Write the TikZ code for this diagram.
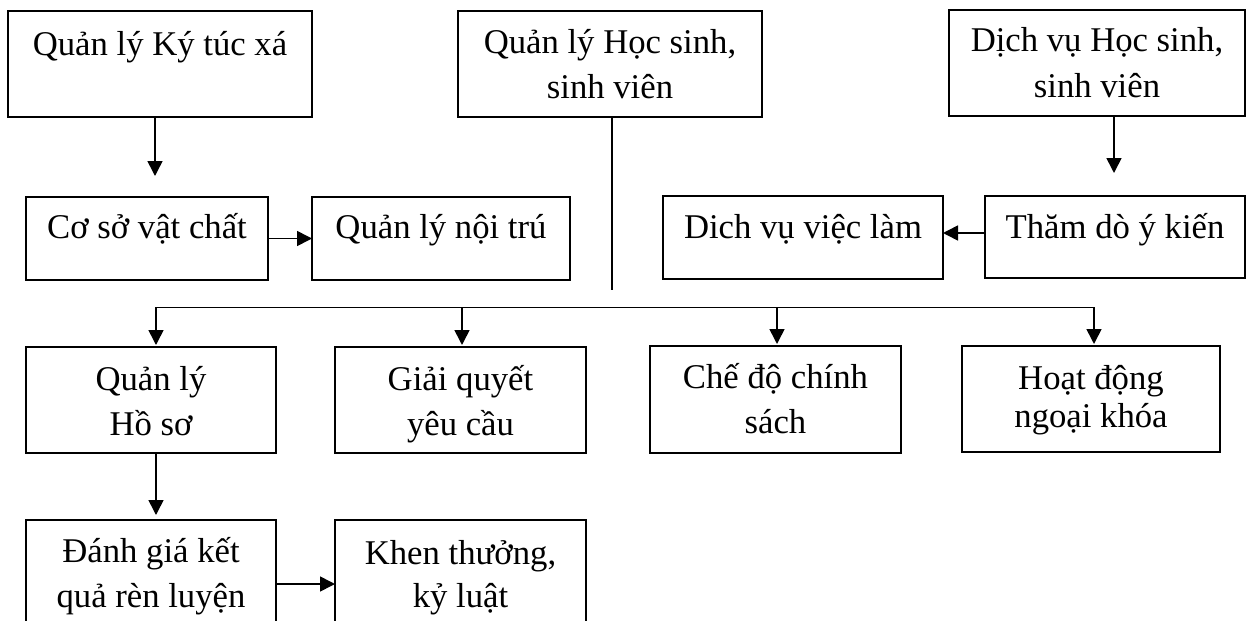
\documentclass[tikz,border=0pt]{standalone}
\usepackage{fontspec}
\setmainfont{Liberation Serif}
\usetikzlibrary{arrows.meta}

% top-aligned centred lines with a fixed baseline distance
\newcommand{\tl}[2][45pt]{\vtop{\baselineskip=#1\lineskiplimit=-\maxdimen
  \halign{\hfil##\hfil\cr#2\crcr}}}

\begin{document}
\begin{tikzpicture}[x=1pt,y=-1pt,
  blk/.style={draw, line width=1.7pt, inner sep=0pt, outer sep=0pt,
    anchor=north west, font=\fontsize{34.7}{45}\selectfont},
  arr/.style={line width=1.6pt, -{Triangle[length=15pt,width=15pt]}},
  ln/.style={line width=1.6pt}]
\useasboundingbox (0,0) rectangle (1251,621);

% top row
\node[blk, minimum width=304pt, text height=44pt, text depth=62pt] (ktx) at (8,11) {\tl{Quản lý Ký túc xá}};
\node[blk, minimum width=304pt, text height=42pt, text depth=64pt] (qlhs) at (458,11) {\tl{Quản lý Học sinh,\cr sinh viên}};
\node[blk, minimum width=296pt, text height=41pt, text depth=65pt] (dvhs) at (949,10) {\tl[46pt]{Dịch vụ Học sinh,\cr sinh viên}};

% second row
\node[blk, minimum width=242pt, text height=41pt, text depth=42pt] (csvc) at (26,197) {\tl{Cơ sở vật chất}};
\node[blk, minimum width=258pt, text height=41pt, text depth=42pt] (qlnt) at (312,197) {\tl{Quản lý nội trú}};
\node[blk, minimum width=280pt, text height=42pt, text depth=41pt] (dvvl) at (663,196) {\tl{Dich vụ việc làm}};
\node[blk, minimum width=260pt, text height=42pt, text depth=40pt] (tdyk) at (985,196) {\tl{Thăm dò ý kiến}};

% third row
\node[blk, minimum width=250pt, text height=43pt, text depth=63pt] (hoso) at (26,347) {\tl{Quản lý\cr Hồ sơ}};
\node[blk, minimum width=251pt, text height=43pt, text depth=63pt] (gqyc) at (335,347) {\tl{Giải quyết\cr yêu cầu}};
\node[blk, minimum width=251pt, text height=42pt, text depth=65pt] (cdcs) at (650,346) {\tl{Chế độ chính\cr sách}};
\node[blk, minimum width=258pt, text height=43pt, text depth=63pt] (hdnk) at (962,346) {\tl[38pt]{Hoạt động\cr ngoại khóa}};

% bottom row
\node[blk, minimum width=250pt, text height=42pt, text depth=86pt] (dgkq) at (26,520) {\tl{Đánh giá kết\cr quả rèn luyện}};
\node[blk, minimum width=251pt, text height=44pt, text depth=84pt] (khen) at (335,520) {\tl[43pt]{Khen thưởng,\cr kỷ luật}};

% left and right branches
\coordinate (a1) at ([xshift=-5pt]ktx.south);
\draw[arr, shorten >=21pt] (a1) -- (a1 |- csvc.north);
\draw[arr] (csvc.east) -- (csvc.east -| qlnt.west);

\coordinate (b1) at ([xshift=17pt]dvhs.south);
\draw[arr, shorten >=23pt] (b1) -- (b1 |- tdyk.north);
\coordinate (t1) at ([yshift=4pt]tdyk.west);
\draw[arr] (t1) -- (t1 -| dvvl.east);

% central stem and distribution bar
\coordinate (stemtop) at ([xshift=2pt]qlhs.south);
\coordinate (stemend) at ([yshift=-173pt]stemtop);
\draw[ln] (stemtop) -- (stemend);

\coordinate (d1) at ([xshift=5pt]hoso.north);
\coordinate (d2) at ([xshift=1.5pt]gqyc.north);
\coordinate (d3) at ([xshift=1.5pt]cdcs.north);
\coordinate (d4) at ([xshift=3pt]hdnk.north);
\coordinate (busL) at ([yshift=39.5pt]d1);
\coordinate (busM) at (stemtop |- busL);

\draw[arr, shorten >=2pt] (busM) -| (d1);
\draw[arr, shorten >=2pt] (busM) -| (d4);
\draw[arr, shorten >=2pt] (d2 |- busL) -- (d2);
\draw[arr, shorten >=2pt] (d3 |- busL) -- (d3);

% record chain
\coordinate (e1) at ([xshift=5pt]hoso.south);
\draw[arr, shorten >=5pt] (e1) -- (e1 |- dgkq.north);
\draw[arr] (dgkq.east) -- (dgkq.east -| khen.west);
\end{tikzpicture}
\end{document}
